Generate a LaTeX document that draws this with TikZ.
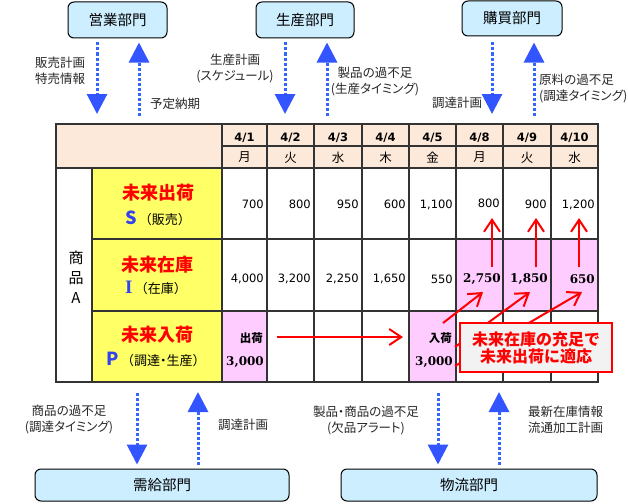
\documentclass[tikz,border=0pt]{standalone}
\usepackage{fontspec}
\setmainfont{Noto Sans CJK JP}
\newfontfamily\lblfont[RawFeature=+palt]{Noto Sans CJK JP}
\newfontfamily\numfont{DejaVu Sans}
\newfontfamily\numserif{DejaVu Serif}
\newfontfamily\ltserif{Liberation Serif}
\usetikzlibrary{arrows.meta}
\definecolor{peach}{HTML}{FDE9D9}
\definecolor{cellyellow}{HTML}{FFFF66}
\definecolor{cellpink}{HTML}{FFCCFF}
\definecolor{deptblue}{HTML}{CCEEFF}
\definecolor{arrblue}{HTML}{3355FF}
\definecolor{dotblue}{HTML}{3366FF}
\definecolor{lettblue}{HTML}{3344EE}
\definecolor{txtred}{HTML}{FF0000}
\definecolor{gridcol}{HTML}{333333}
\definecolor{calloutbg}{HTML}{F2F2F2}
\begin{document}
\begin{tikzpicture}[x=1pt,y=-1pt,
  dept/.style={draw=black, line width=1pt, rounded corners=6pt, fill=deptblue,
    font=\fontsize{14.5}{16}\selectfont, inner sep=0pt},
  flow/.style={dotblue, line width=3pt, dash pattern=on 3pt off 2pt,
    -{Triangle[width=20pt,length=20pt,color=arrblue]}},
  lbl/.style={font=\lblfont\fontsize{12.5}{16}\selectfont, align=center, text=black!85, inner sep=0pt},
  gridln/.style={gridcol, line width=1.2pt},
  outerln/.style={gridcol, line width=1.6pt},
  datef/.style={font=\numfont\bfseries\fontsize{11.5}{13}\selectfont, inner sep=0pt},
  dayf/.style={font=\fontsize{12.5}{14}\selectfont, inner sep=0pt},
  valf/.style={font=\numfont\fontsize{11.5}{13}\selectfont, inner sep=0pt, anchor=east},
  boldval/.style={font=\numserif\bfseries\fontsize{12}{13}\selectfont, inner sep=0pt, anchor=east},
  smallbold/.style={font=\bfseries\fontsize{11.5}{13}\selectfont, inner sep=0pt, anchor=east},
  rowhead/.style={text=txtred, font=\bfseries\fontsize{18}{20}\selectfont, inner sep=0pt},
  rowsub/.style={font=\fontsize{13}{15}\selectfont, inner sep=0pt},
  redarr/.style={txtred, line width=2pt, -{Straight Barb[length=12pt,width=16pt]}},
]
\useasboundingbox (0,0) rectangle (628,503);

% department boxes
\node[dept, minimum width=99pt, minimum height=36pt] (eigyo) at (117.5,20) {営業部門};
\node[dept, minimum width=98pt, minimum height=36pt] (seisan) at (305,20) {生産部門};
\node[dept, minimum width=100pt, minimum height=35pt] (kobai) at (512,18.5) {購買部門};
\node[dept, minimum width=254pt, minimum height=32pt] (jukyu) at (162,485) {需給部門};
\node[dept, minimum width=256pt, minimum height=32pt] (butsuryu) at (469,485) {物流部門};

% table fills
\fill[peach] (56,124) rectangle (598,168);
\fill[cellyellow] (92,168) rectangle (222,382);
\fill[cellpink] (222,311) rectangle (267,382);
\fill[cellpink] (409,311) rectangle (456,382);
\fill[cellpink] (456,239) rectangle (598,311);
% grid
\draw[gridln] (222,146) -- (598,146);
\draw[gridln] (56,168) -- (598,168);
\draw[gridln] (92,239) -- (598,239);
\draw[gridln] (92,311) -- (598,311);
\draw[gridln] (92,168) -- (92,382);
\foreach \x in {222,267,314,362,409,456,503,551} \draw[gridln] (\x,124) -- (\x,382);
\draw[outerln] (56,124) rectangle (598,382);

% header
\node[datef] (d1) at (244.5,137.5) {4/1};
\node[datef] (d2) at (290.5,137.5) {4/2};
\node[datef] (d3) at (338,137.5) {4/3};
\node[datef] (d4) at (385.5,137.5) {4/4};
\node[datef] (d5) at (432.5,137.5) {4/5};
\node[datef] (d6) at (479.5,137.5) {4/8};
\node[datef] (d7) at (527,137.5) {4/9};
\node[datef] (d8) at (574.5,137.5) {4/10};
\node[dayf] (w1) at (244.5,157.5) {月};
\node[dayf] (w2) at (290.5,157.5) {火};
\node[dayf] (w3) at (338,157.5) {水};
\node[dayf] (w4) at (385.5,157.5) {木};
\node[dayf] (w5) at (432.5,157.5) {金};
\node[dayf] (w6) at (479.5,157.5) {月};
\node[dayf] (w7) at (527,157.5) {火};
\node[dayf] (w8) at (574.5,157.5) {水};

% left headers
\node[font=\fontsize{15}{20}\selectfont, align=center, inner sep=0pt] (shohin) at (76,277) {商\\品\\A};
\node[rowhead] (sh) at (158,193) {未来出荷};
\node[rowsub] (ss) at (158,218) {\textcolor{lettblue}{\bfseries\fontsize{18}{20}\selectfont S}\,（販売）};
\node[rowhead] (ih) at (157,265) {未来在庫};
\node[rowsub] (is) at (156,288) {\textcolor{lettblue}{\ltserif\bfseries\fontsize{19}{20}\selectfont I}\,（在庫）};
\node[rowhead] (ph) at (157,335) {未来入荷};
\node[rowsub] (ps) at (156,359) {\textcolor{lettblue}{\bfseries\fontsize{18}{20}\selectfont P}\,（調達{\lblfont ・}生産）};

% S row
\node[valf] (s1) at (264,204.5) {700};
\node[valf] (s2) at (311,204.5) {800};
\node[valf] (s3) at (359,204.5) {950};
\node[valf] (s4) at (406,204.5) {600};
\node[valf] (s5) at (453,204.5) {1,100};
\node[valf] (s6) at (500,203) {800};
\node[valf] (s7) at (547,204.5) {900};
\node[valf] (s8) at (595,204.5) {1,200};
% I row
\node[valf] (i1) at (264,279) {4,000};
\node[valf] (i2) at (311,279) {3,200};
\node[valf] (i3) at (359,279) {2,250};
\node[valf] (i4) at (406,279) {1,650};
\node[valf] (i5) at (453,279) {550};
\node[boldval] (i6) at (501,279) {2,750};
\node[boldval] (i7) at (548,279) {1,850};
\node[boldval] (i8) at (595,279) {650};
% P row
\node[smallbold] (out1) at (263,338) {出荷};
\node[boldval] (out2) at (264,362) {3,000};
\node[smallbold] (in1) at (452,338) {入荷};
\node[boldval] (in2) at (453,362) {3,000};

% red arrows
\coordinate (ha) at (277,337);
\coordinate (hb) at (403,337);
\draw[redarr] (ha) -- (hb);
\coordinate (va1) at (492,267); \coordinate (vb1) at (492,218);
\coordinate (va2) at (536,267); \coordinate (vb2) at (536,218);
\coordinate (va3) at (579,267); \coordinate (vb3) at (579,218);
\draw[redarr] (va1) -- (vb1);
\draw[redarr] (va2) -- (vb2);
\draw[redarr] (va3) -- (vb3);
\coordinate (da1) at (443,323); \coordinate (db1) at (483,292);
\coordinate (da2) at (455,347); \coordinate (db2) at (530,292);
\coordinate (da3) at (455,366); \coordinate (db3) at (582,292);
\draw[redarr] (da1) -- (db1);
\draw[redarr] (da2) -- (db2);
\draw[redarr] (da3) -- (db3);

% callout
\node[draw=txtred, line width=2pt, fill=calloutbg, minimum width=152pt, minimum height=49pt,
  inner sep=0pt, align=center, text=txtred, font=\bfseries\fontsize{16}{17}\selectfont]
  (callout) at (536,347.5) {未来在庫の充足で\\未来出荷に適応};

% blue flows top
\coordinate (e1) at (97,114);
\coordinate (e2) at (139,116);
\draw[flow, shorten <=4pt] (eigyo.south -| e1) -- (e1);
\draw[flow, shorten >=4pt] (e2) -- (eigyo.south -| e2);
\coordinate (p1) at (285,114);
\coordinate (p2) at (327,116);
\draw[flow, shorten <=4pt] (seisan.south -| p1) -- (p1);
\draw[flow, shorten >=4pt] (p2) -- (seisan.south -| p2);
\coordinate (k1) at (492,114);
\coordinate (k2) at (534,116);
\draw[flow, shorten <=6pt] (kobai.south -| k1) -- (k1);
\draw[flow, shorten >=6pt] (k2) -- (kobai.south -| k2);
% blue flows bottom
\coordinate (j1) at (137,393);
\coordinate (j2) at (198,392);
\draw[flow, shorten >=4pt] (j1) -- (jukyu.north -| j1);
\draw[flow, shorten <=4pt] (jukyu.north -| j2) -- (j2);
\coordinate (b1) at (438,393);
\coordinate (b2) at (499,392);
\draw[flow, shorten >=4pt] (b1) -- (butsuryu.north -| b1);
\draw[flow, shorten <=4pt] (butsuryu.north -| b2) -- (b2);

% flow labels
\node[lbl] (l1) at (60,70.5) {販売計画\\特売情報};
\node[lbl] (l2) at (175,104) {予定納期};
\node[lbl] (l3) at (235,68) {生産計画\\(スケジュール)};
\node[lbl] (l4) at (375,81) {製品の過不足\\(生産タイミング)};
\node[lbl] (l5) at (457,103) {調達計画};
\node[lbl, align=left, anchor=west] (l6) at (539,88) {原料の過不足\\(調達タイミング)};
\node[lbl] (l7) at (69,419) {商品の過不足\\(調達タイミング)};
\node[lbl] (l8) at (243,425) {調達計画};
\node[lbl] (l9) at (366,420) {製品・商品の過不足\\(欠品アラート)};
\node[lbl, align=left, anchor=west] (l10) at (528,420) {最新在庫情報\\流通加工計画};
\end{tikzpicture}
\end{document}
